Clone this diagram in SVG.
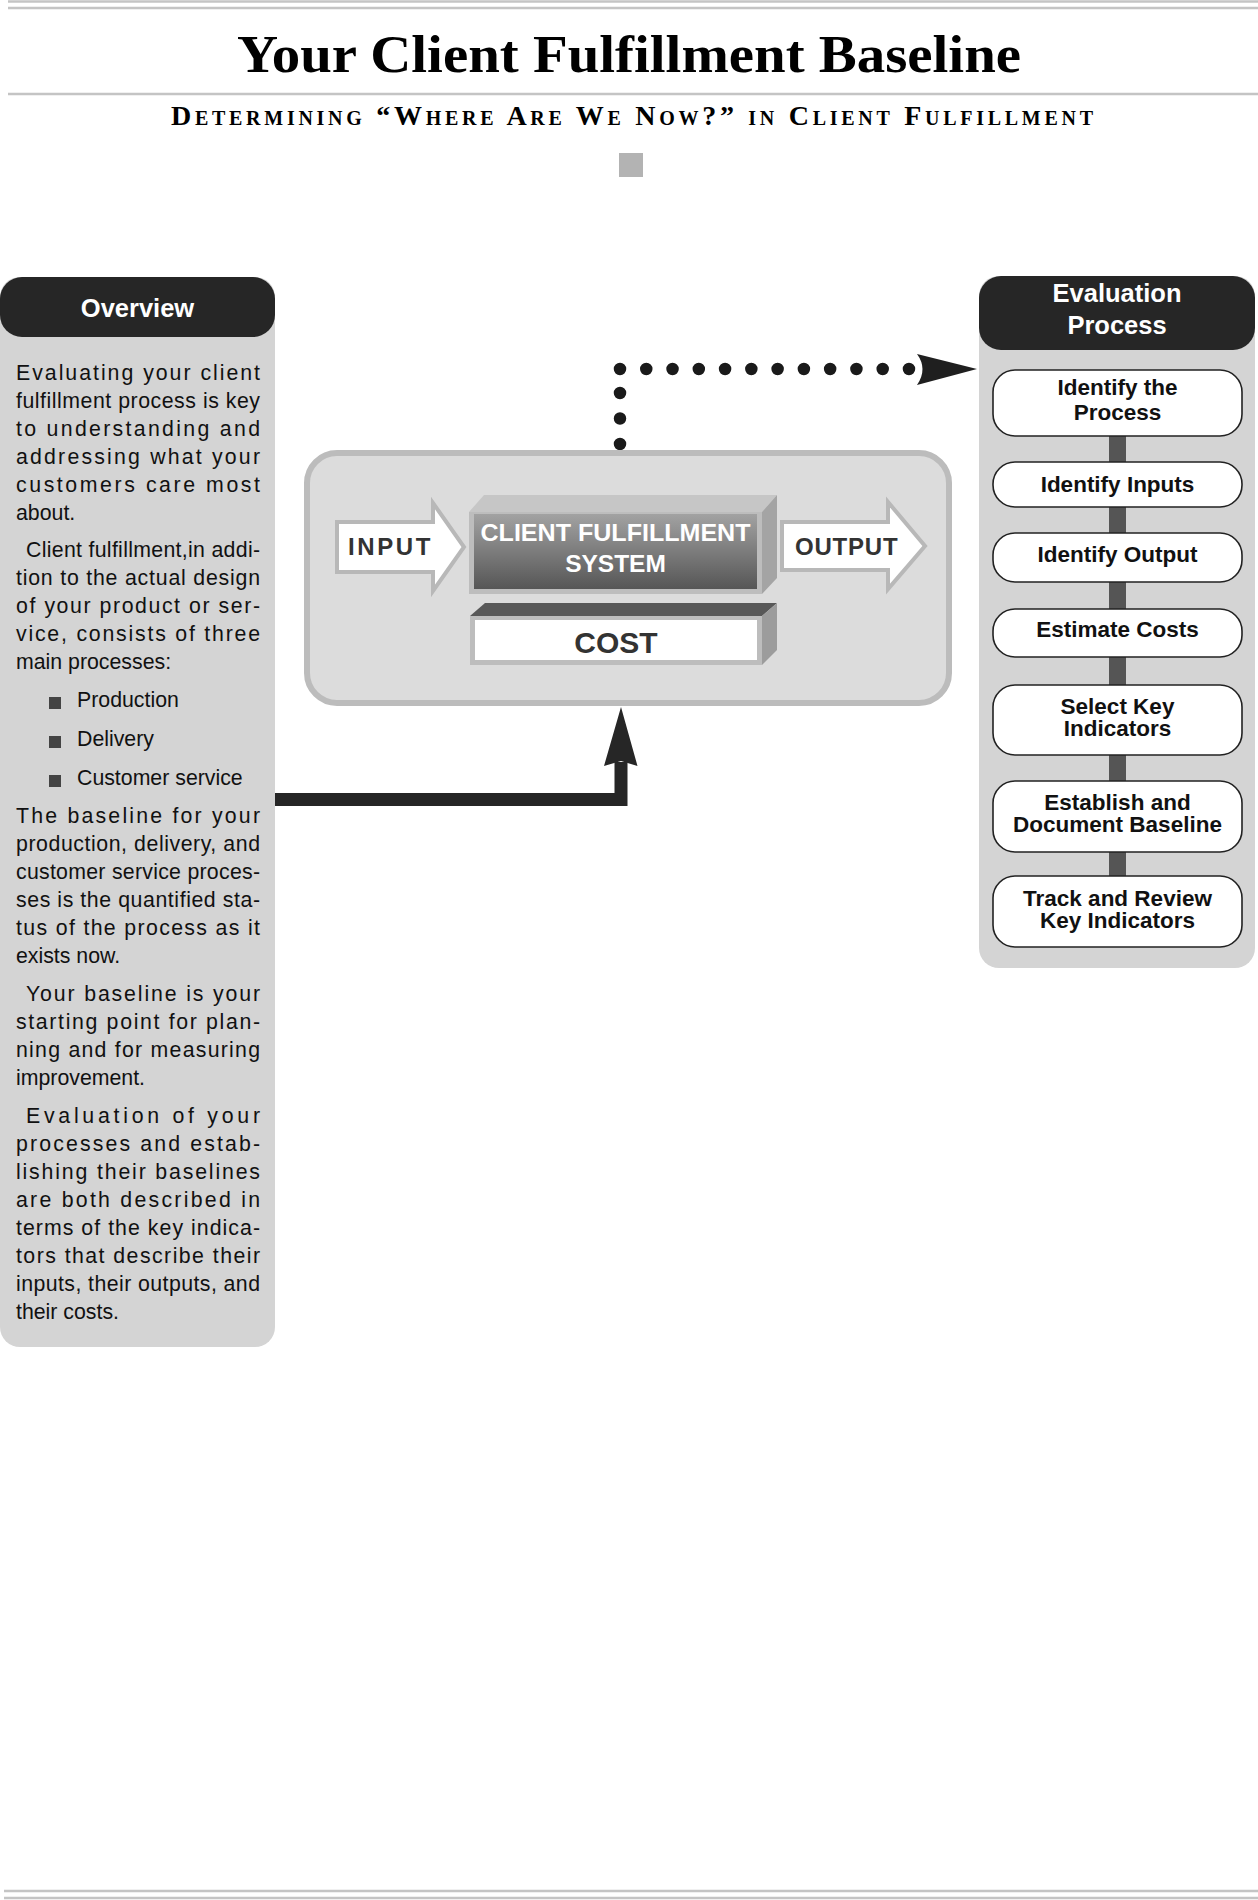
<svg xmlns="http://www.w3.org/2000/svg" width="1258" height="1900" viewBox="0 0 1258 1900">
<defs>
<style>
.rule{stroke:#c4c4c4;stroke-width:2.5;fill:none}
.body{font-family:"Liberation Sans",Arial,sans-serif;font-size:21.3px;fill:#111}
.hdr{font-family:"Liberation Sans",Arial,sans-serif;font-weight:bold;font-size:25.5px;fill:#fff;text-anchor:middle}
.step rect{fill:#fff;stroke:#222;stroke-width:1.6}
.step text{font-family:"Liberation Sans",Arial,sans-serif;font-weight:bold;font-size:22.5px;fill:#111;text-anchor:middle}
.lbl{font-family:"Liberation Sans",Arial,sans-serif;font-weight:bold}
.bul{fill:#444}
</style>
<linearGradient id="sysg" x1="0" y1="0" x2="0" y2="1">
<stop offset="0" stop-color="#a2a2a2"/>
<stop offset="1" stop-color="#565656"/>
</linearGradient>
</defs>
<rect width="1258" height="1900" fill="#fff"/>

<g id="header">
<line class="rule" x1="8" y1="1.5" x2="1258" y2="1.5"/>
<line class="rule" x1="8" y1="8" x2="1258" y2="8"/>
<text x="629" y="72" text-anchor="middle" textLength="784" lengthAdjust="spacingAndGlyphs" font-family="'Liberation Serif','Times New Roman',serif" font-weight="bold" font-size="52" fill="#000">Your Client Fulfillment Baseline</text>
<line class="rule" x1="8" y1="94" x2="1258" y2="94"/>
<text x="632" y="125" text-anchor="middle" textLength="922" lengthAdjust="spacing" font-family="'Liberation Serif','Times New Roman',serif" font-weight="bold" font-size="28" font-variant="small-caps" fill="#000">Determining “Where Are We Now?” in Client Fulfillment</text>
<rect x="619" y="153" width="24" height="24" fill="#b3b3b3"/>
<line class="rule" x1="4" y1="1891" x2="1258" y2="1891"/>
<line class="rule" x1="4" y1="1898" x2="1258" y2="1898"/>
</g>

<g id="connectors">
<path d="M620 444 V392" stroke="#1a1a1a" stroke-width="12.5" stroke-linecap="round" stroke-dasharray="0 25.5" fill="none"/>
<path d="M620 369 H909.5" stroke="#1a1a1a" stroke-width="12.5" stroke-linecap="round" stroke-dasharray="0 26.27" fill="none"/>
<path d="M917 354 L977 369 L917 385 Q928 369 917 354 Z" fill="#1f1f1f"/>
<path d="M275 799.5 H621 V762" stroke="#262626" stroke-width="13" fill="none"/>
<path d="M621 707 L637.5 766 L621 761 L604 766 Z" fill="#262626"/>
</g>

<g id="overview">
<rect x="0" y="277" width="275" height="1070" rx="20" fill="#d4d4d4"/>
<rect x="0" y="277" width="275" height="60" rx="22" fill="#262626"/>
<text class="hdr" x="137.5" y="317">Overview</text>
<g class="body">
<text x="16" y="380" textLength="244" lengthAdjust="spacing">Evaluating your client</text>
<text x="16" y="408" textLength="244" lengthAdjust="spacing">fulfillment process is key</text>
<text x="16" y="436" textLength="244" lengthAdjust="spacing">to understanding and</text>
<text x="16" y="464" textLength="244" lengthAdjust="spacing">addressing what your</text>
<text x="16" y="492" textLength="244" lengthAdjust="spacing">customers care most</text>
<text x="16" y="520">about.</text>
<text x="26" y="557" textLength="234" lengthAdjust="spacing">Client fulfillment,in addi-</text>
<text x="16" y="585" textLength="244" lengthAdjust="spacing">tion to the actual design</text>
<text x="16" y="613" textLength="244" lengthAdjust="spacing">of your product or ser-</text>
<text x="16" y="641" textLength="244" lengthAdjust="spacing">vice, consists of three</text>
<text x="16" y="669">main processes:</text>
<text x="77" y="707">Production</text>
<text x="77" y="746">Delivery</text>
<text x="77" y="785">Customer service</text>
<text x="16" y="823" textLength="244" lengthAdjust="spacing">The baseline for your</text>
<text x="16" y="851" textLength="244" lengthAdjust="spacing">production, delivery, and</text>
<text x="16" y="879" textLength="244" lengthAdjust="spacing">customer service proces-</text>
<text x="16" y="907" textLength="244" lengthAdjust="spacing">ses is the quantified sta-</text>
<text x="16" y="935" textLength="244" lengthAdjust="spacing">tus of the process as it</text>
<text x="16" y="963">exists now.</text>
<text x="26" y="1001" textLength="234" lengthAdjust="spacing">Your baseline is your</text>
<text x="16" y="1029" textLength="244" lengthAdjust="spacing">starting point for plan-</text>
<text x="16" y="1057" textLength="244" lengthAdjust="spacing">ning and for measuring</text>
<text x="16" y="1085">improvement.</text>
<text x="26" y="1123" textLength="234" lengthAdjust="spacing">Evaluation of your</text>
<text x="16" y="1151" textLength="244" lengthAdjust="spacing">processes and estab-</text>
<text x="16" y="1179" textLength="244" lengthAdjust="spacing">lishing their baselines</text>
<text x="16" y="1207" textLength="244" lengthAdjust="spacing">are both described in</text>
<text x="16" y="1235" textLength="244" lengthAdjust="spacing">terms of the key indica-</text>
<text x="16" y="1263" textLength="244" lengthAdjust="spacing">tors that describe their</text>
<text x="16" y="1291" textLength="244" lengthAdjust="spacing">inputs, their outputs, and</text>
<text x="16" y="1319">their costs.</text>
</g>
<rect class="bul" x="49" y="697" width="12" height="12"/>
<rect class="bul" x="49" y="736" width="12" height="12"/>
<rect class="bul" x="49" y="775" width="12" height="12"/>
</g>

<g id="system">
<rect x="307" y="453" width="642" height="250" rx="30" fill="#dcdcdc" stroke="#bcbcbc" stroke-width="6"/>
<g id="input-arrow">
<path d="M337 522 H433 V503 L464 547 L433 591 V572 H337 Z" fill="#fff" stroke="#b8b8b8" stroke-width="4" stroke-linejoin="miter"/>
<text class="lbl" x="348" y="555" font-size="24" letter-spacing="2.6" fill="#333">INPUT</text>
</g>
<g id="cfs">
<path d="M469 512 L484 495 H777 L762 512 Z" fill="#c6c6c6"/>
<path d="M762 512 L777 495 V578 L762 594 Z" fill="#a4a4a4"/>
<rect x="469" y="512" width="293" height="82" fill="#bdbdbd"/>
<rect x="474" y="514" width="283" height="75" fill="url(#sysg)"/>
<text class="lbl" x="615.5" y="541" font-size="24.5" fill="#fff" text-anchor="middle" textLength="270" lengthAdjust="spacingAndGlyphs">CLIENT FULFILLMENT</text>
<text class="lbl" x="615.5" y="572" font-size="24.5" fill="#fff" text-anchor="middle">SYSTEM</text>
</g>
<g id="cost">
<path d="M470 616 L485 603 H777 L762 616 Z" fill="#585858"/>
<path d="M762 616 L777 603 V650 L762 665 Z" fill="#9c9c9c"/>
<rect x="470" y="616" width="292" height="49" fill="#bdbdbd"/>
<rect x="475" y="620" width="282" height="40" fill="#fff"/>
<text class="lbl" x="616" y="653" font-size="30" fill="#333" text-anchor="middle">COST</text>
</g>
<g id="output-arrow">
<path d="M782 522 H888 V502 L925 546 L888 589 V570 H782 Z" fill="#fff" stroke="#b8b8b8" stroke-width="4" stroke-linejoin="miter"/>
<text class="lbl" x="795" y="555" font-size="24" letter-spacing="0.8" fill="#333">OUTPUT</text>
</g>
</g>

<g id="evaluation">
<rect x="979" y="276" width="276" height="692" rx="20" fill="#d4d4d4"/>
<rect x="979" y="276" width="276" height="74" rx="22" fill="#262626"/>
<text class="hdr" x="1117" y="302">Evaluation</text>
<text class="hdr" x="1117" y="334">Process</text>
</g>
<g id="step-links">
<rect x="1109" y="436" width="17" height="440" fill="#555"/>
</g>
<g id="step1" class="step"><rect x="993" y="370" width="249" height="66" rx="22"/><text x="1117.5" y="395">Identify the</text><text x="1117.5" y="420">Process</text></g>
<g id="step2" class="step"><rect x="993" y="462" width="249" height="45" rx="22"/><text x="1117.5" y="492">Identify Inputs</text></g>
<g id="step3" class="step"><rect x="993" y="533" width="249" height="49" rx="22"/><text x="1117.5" y="562">Identify Output</text></g>
<g id="step4" class="step"><rect x="993" y="609" width="249" height="48" rx="22"/><text x="1117.5" y="637">Estimate Costs</text></g>
<g id="step5" class="step"><rect x="993" y="685" width="249" height="70" rx="22"/><text x="1117.5" y="714">Select Key</text><text x="1117.5" y="736">Indicators</text></g>
<g id="step6" class="step"><rect x="993" y="781" width="249" height="71" rx="22"/><text x="1117.5" y="810">Establish and</text><text x="1117.5" y="832">Document Baseline</text></g>
<g id="step7" class="step"><rect x="993" y="876" width="249" height="71" rx="22"/><text x="1117.5" y="906">Track and Review</text><text x="1117.5" y="928">Key Indicators</text></g>
</svg>
